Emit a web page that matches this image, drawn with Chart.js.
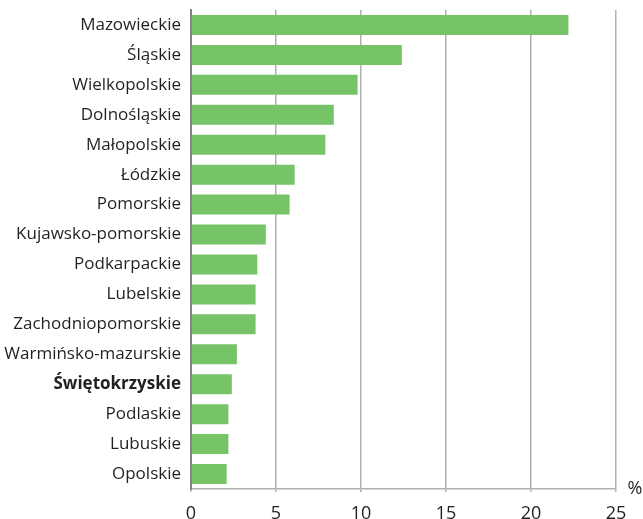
<!DOCTYPE html>
<html>
<head>
<meta charset="utf-8">
<script src="https://cdn.jsdelivr.net/npm/chart.js@4.4.0/dist/chart.umd.min.js"></script>
<style>
  html, body { margin: 0; padding: 0; background: #fff; }
  #wrap { width: 643px; height: 519px; }
</style>
</head>
<body>
<div id="wrap"><canvas id="chart"></canvas></div>
<script>
// Regions, sorted by share
const categories = [
    'Mazowieckie', 'Śląskie', 'Wielkopolskie', 'Dolnośląskie', 'Małopolskie',
    'Łódzkie', 'Pomorskie', 'Kujawsko-pomorskie', 'Podkarpackie', 'Lubelskie',
    'Zachodniopomorskie', 'Warmińsko-mazurskie', 'Świętokrzyskie', 'Podlaskie',
    'Lubuskie', 'Opolskie'
];
const values = [22.2, 12.4, 9.8, 8.4, 7.9, 6.1, 5.8, 4.4, 3.9, 3.8, 3.8, 2.7, 2.4, 2.2, 2.2, 2.1];
const xTicks = [0, 5, 10, 15, 20, 25];
const highlighted = 'Świętokrzyskie';

const FONT = '"Open Sans", sans-serif';
const TEXT = '#231f20';

// "%" unit next to the last x tick
const unitLabel = {
    id: 'unitLabel',
    afterDraw(chart) {
        const ctx = chart.ctx;
        const area = chart.chartArea;
        ctx.save();
        ctx.font = '18px ' + FONT;
        ctx.fillStyle = TEXT;
        ctx.textAlign = 'center';
        ctx.textBaseline = 'middle';
        ctx.fillText('%', 635, area.bottom);
        ctx.restore();
    }
};

new Chart(document.getElementById('chart'), {
    type: 'bar',
    data: {
        labels: categories,
        datasets: [{
            data: values,
            backgroundColor: '#77c367',
            borderWidth: 0,
            categoryPercentage: 1,
            barPercentage: 0.667
        }]
    },
    options: {
        indexAxis: 'y',
        responsive: true,
        maintainAspectRatio: false,
        animation: false,
        layout: { padding: { top: 10, right: 27, left: 0, bottom: 0 } },
        plugins: {
            legend: { display: false },
            tooltip: { enabled: false }
        },
        scales: {
            x: {
                min: 0,
                max: 25,
                z: 1,
                afterBuildTicks: (scale) => { scale.ticks = xTicks.map(v => ({ value: v })); },
                afterFit: (scale) => { scale.height = 30; },
                grid: {
                    color: '#b0b0b0',
                    lineWidth: 1.5,
                    tickLength: 3
                },
                border: { color: '#b0b0b0', width: 1.5 },
                ticks: {
                    color: TEXT,
                    font: { family: FONT, size: 18 },
                    padding: 11
                }
            },
            y: {
                afterFit: (scale) => {
                    scale.width = 191;
                    scale.paddingTop = 0;
                    scale.paddingBottom = 0;
                },
                grid: { display: false, drawTicks: false, tickLength: 0 },
                border: { color: '#808080', width: 2 },
                ticks: {
                    color: TEXT,
                    padding: 10,
                    autoSkip: false,
                    font: (ctx) => ({
                        family: FONT,
                        size: 17,
                        weight: categories[ctx.index] === highlighted ? 'bold' : 'normal'
                    })
                }
            }
        }
    },
    plugins: [unitLabel]
});
</script>
</body>
</html>
